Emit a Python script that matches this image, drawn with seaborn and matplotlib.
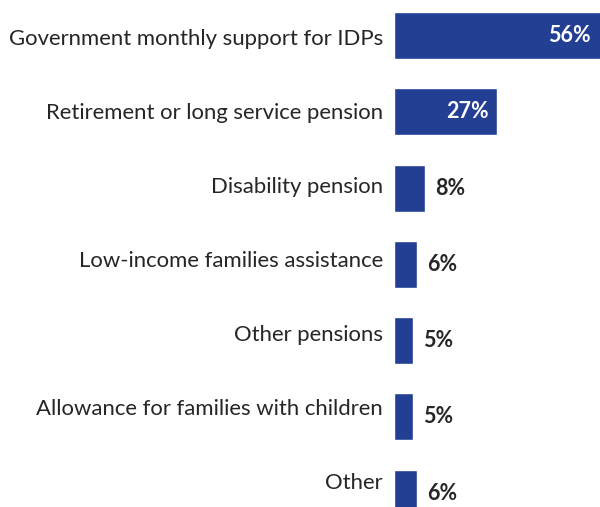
import matplotlib
matplotlib.use("Agg")
import matplotlib.pyplot as plt
import matplotlib.transforms as mtransforms
import seaborn as sns
import pandas as pd

categories = [
    "Government monthly support for IDPs",
    "Retirement or long service pension",
    "Disability pension",
    "Low-income families assistance",
    "Other pensions",
    "Allowance for families with children",
    "Other",
]
values = [56, 27, 8, 6, 5, 5, 6]
value_labels = ["56%", "27%", "8%", "6%", "5%", "5%", "6%"]

df = pd.DataFrame({"category": categories, "value": values})

sns.set_theme(style="white")
plt.rcParams["font.family"] = ["Lato", "DejaVu Sans"]

BAR = "#233F94"
TEXT = "#262626"

fig = plt.figure(figsize=(6.0, 5.07), dpi=100)
ax = fig.add_axes([394.0 / 600, 0.0, 206.0 / 600, 1.0])

sns.barplot(data=df, x="value", y="category", orient="h", color=BAR,
            saturation=1, width=0.616, ax=ax)

xmax = 53.8
ax.set_xlim(0, xmax)
ax.set_ylim(6.18, -0.465)

ax.set_xticks([])
ax.set_yticks([])
ax.set_xlabel("")
ax.set_ylabel("")
for s in ax.spines.values():
    s.set_visible(False)

# category names to the left of the bars
lab_tr = ax.get_yaxis_transform() + mtransforms.ScaledTranslation(-11.0 / 100, 0, fig.dpi_scale_trans)
for i, name in enumerate(categories):
    ax.text(0, i * 0.969 + 0.05, name, transform=lab_tr, ha="right", va="center",
            fontsize=15.9, color=TEXT, clip_on=False)

# value labels: inside for long bars, outside for short ones
in_tr = ax.transData + mtransforms.ScaledTranslation(-9 / 100, 0, fig.dpi_scale_trans)
out_tr = ax.transData + mtransforms.ScaledTranslation(10 / 100, 0, fig.dpi_scale_trans)
for i, (v, lab) in enumerate(zip(values, value_labels)):
    if v >= 20:
        ax.text(min(v, xmax), i, lab, transform=in_tr, ha="right", va="center",
                fontsize=15.5, fontweight="bold", color="white")
    else:
        ax.text(v, i, lab, transform=out_tr, ha="left", va="center",
                fontsize=15.5, fontweight="bold", color=TEXT, clip_on=False)

fig.savefig("out.png", dpi=100, facecolor="white")
